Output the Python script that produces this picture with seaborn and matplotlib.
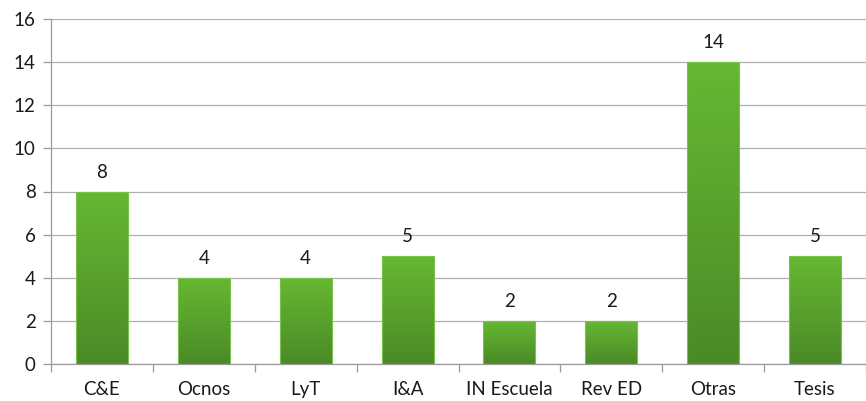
import numpy as np
import pandas as pd
import seaborn as sns
import matplotlib.pyplot as plt
from matplotlib.colors import LinearSegmentedColormap

categories = ['C&E', 'Ocnos', 'LyT', 'I&A', 'IN Escuela', 'Rev ED', 'Otras', 'Tesis']
counts = [8, 4, 4, 5, 2, 2, 14, 5]

df = pd.DataFrame({'revista': categories, 'n': counts})

sns.set_style('white')
plt.rcParams['font.family'] = ['Lato', 'DejaVu Sans']

fig = plt.figure(figsize=(8.66, 4.01), dpi=100)
ax = fig.add_axes([51 / 866, 1 - 364 / 401, 1 - 51 / 866, (364 - 19) / 401])

sns.barplot(data=df, x='revista', y='n', color='#5ca530', width=0.51, ax=ax,
            edgecolor='#79c24c', linewidth=0.8, zorder=3)

# vertical gradient inside each bar
grad = LinearSegmentedColormap.from_list('g', ['#4b8a27', '#66b833'])
img = np.linspace(0, 1, 256).reshape(-1, 1)
for p in ax.patches:
    x0, y0 = p.get_x(), p.get_y()
    w, h = p.get_width(), p.get_height()
    p.set_facecolor('none')
    im = ax.imshow(img, cmap=grad, origin='lower', aspect='auto',
                   extent=[x0, x0 + w, y0, y0 + h], zorder=2)
    im.set_clip_path(p)

for i, v in enumerate(counts):
    ax.text(i, v + 0.5, str(v), ha='center', va='bottom', fontsize=13.5, color='#1a1a1a')

ax.set_xlim(-0.5, len(categories) - 0.5)
ax.set_ylim(0, 16)
ax.set_yticks(range(0, 17, 2))
ax.yaxis.grid(True, color='#b0b0b0', linewidth=0.9, zorder=0)
ax.set_axisbelow(True)

ax.set_xticks(np.arange(len(categories)))
ax.set_xticklabels(categories)
ax.set_xticks(np.arange(-0.5, len(categories)), minor=True)
ax.tick_params(axis='x', which='major', length=0, pad=12, labelsize=13.5, labelcolor='#1a1a1a')
ax.tick_params(axis='x', which='minor', bottom=True, length=6, color='#9a9a9a', width=0.9)
ax.tick_params(axis='y', left=True, length=6, color='#9a9a9a', width=0.9, labelsize=13.5,
               labelcolor='#1a1a1a', pad=5)
ax.set_xlabel('')
ax.set_ylabel('')

for s in ['top', 'right']:
    ax.spines[s].set_visible(False)
for s in ['left', 'bottom']:
    ax.spines[s].set_color('#9a9a9a')
    ax.spines[s].set_linewidth(0.9)

fig.savefig('out.png', dpi=100)
